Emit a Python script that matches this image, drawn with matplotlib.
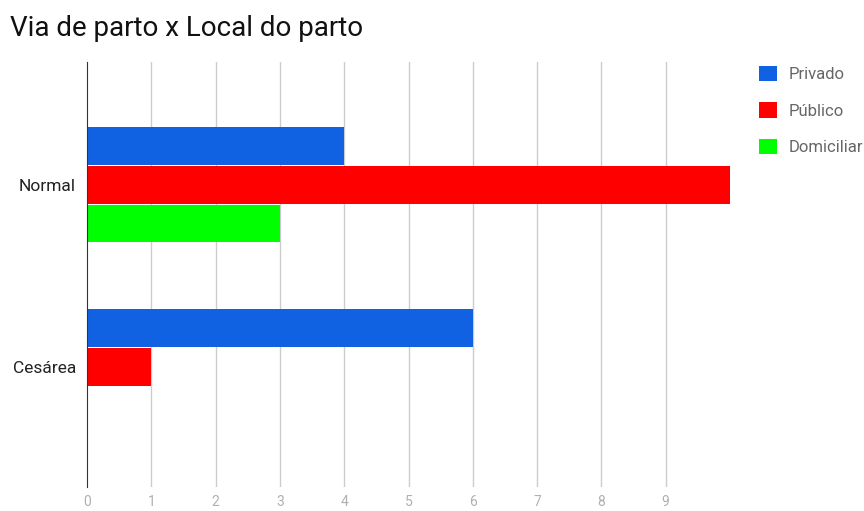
import matplotlib.pyplot as plt
import numpy as np

plt.rcParams['font.family'] = ['Roboto', 'DejaVu Sans']

categories = ["Normal", "Cesárea"]
series = ["Privado", "Público", "Domiciliar"]
privado = [4, 6]
publico = [10, 1]
domiciliar = [3, 0]
colors = ["#1162e2", "#ff0000", "#00ff00"]
xticks = list(range(10))

fig = plt.figure(figsize=(8.64, 5.11), dpi=100)
ax = fig.add_axes([87 / 864, 1 - 487 / 511, (730 - 87) / 864, (487 - 62) / 511])

y = np.arange(len(categories))
h = 0.205
offs = [-0.214, 0, 0.214]
for vals, off, c, name in zip([privado, publico, domiciliar], offs, colors, series):
    ax.barh(y + off, vals, height=h, color=c, label=name, zorder=3)

ax.set_xlim(0, 10)
ax.set_ylim(1.66, -0.675)
ax.set_xticks(xticks)
ax.set_xticklabels([str(t) for t in xticks], color="#b0b0b0", fontsize=10)
ax.set_yticks(y)
ax.set_yticklabels(categories, fontsize=12.5, color="#222222")
ax.tick_params(axis="y", length=0, pad=8)
ax.tick_params(axis="x", length=0, pad=6)
for t in xticks[1:]:
    ax.axvline(t, color="#cccccc", lw=1, zorder=1)
for s in ["top", "right", "bottom"]:
    ax.spines[s].set_visible(False)
ax.spines["left"].set_color("#333333")
ax.spines["left"].set_zorder(4)

fig.text(10 / 864, 1 - 28 / 511, "Via de parto x Local do parto", fontsize=20,
         color="#111111", va="center", ha="left")

leg = fig.legend(loc="upper left", bbox_to_anchor=(744 / 864, 1 - 51 / 511),
                 frameon=False, fontsize=12, handlelength=1.05, handleheight=1.05,
                 labelspacing=1.2, handletextpad=0.75)
for t in leg.get_texts():
    t.set_color("#666666")

fig.savefig("out.png", dpi=100)
